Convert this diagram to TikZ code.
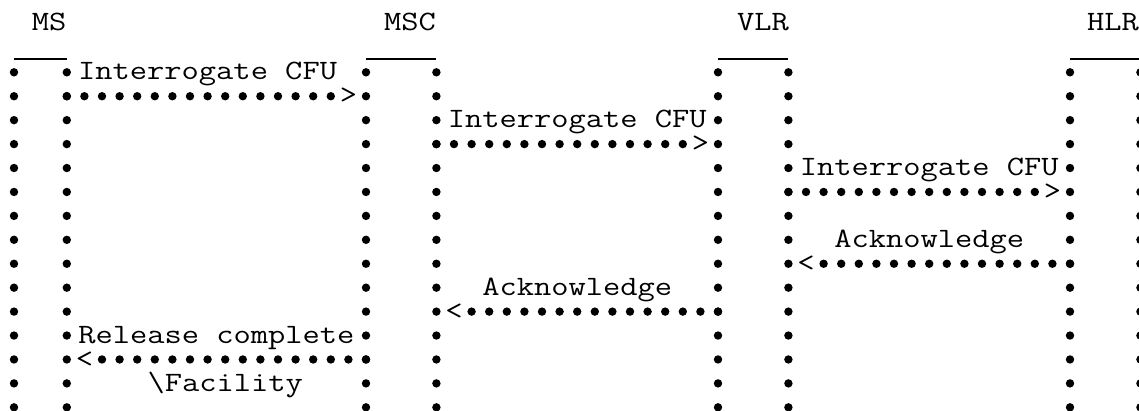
\documentclass[tikz,border=0pt]{standalone}
\usepackage{fontspec}
\usetikzlibrary{decorations.markings}
\newfontfamily\courfont[FakeStretch=1.197]{Latin Modern Mono}
\tikzset{
  lifeline/.style = {decoration={markings,
      mark=between positions 0 and 1 step 23.93pt with {\fill (0,0) circle (4.2pt);}},
      decorate},
  msgline/.style = {decoration={markings,
      mark=between positions 0 and 1 step 17.6pt with {\fill (0,0) circle (4.2pt);}},
      decorate},
  txt/.style = {font=\fontsize{28}{28}\courfont, anchor=base, inner sep=0pt,
                text height=16pt, text depth=3pt},
  boxtop/.style = {line width=1.1pt}
}
\begin{document}
\begin{tikzpicture}[x = 17.6pt, y = -23.93pt]
    \useasboundingbox (-14pt,24.44pt) rectangle (1125pt,-385.56pt);
    % entities (one column of characters = 1, one line = 1)
    \node[txt] (ms) at (2,0.25) {MS};
    \node[txt] (msc) at (22.5,0.25) {MSC};
    \node[txt] (vlr) at (42.56,0.25) {VLR};
    \node[txt] (hlr) at (62.44,0.25) {HLR};
    \foreach \n/\colL/\colR in {ms/0/3, msc/20/24, vlr/40/44, hlr/60/64} {
      \coordinate (\n-tl) at (\colL,1.444);
      \coordinate (\n-tr) at (\colR,1.444);
      \coordinate (\n-l) at (\colL,2);
      \coordinate (\n-r) at (\colR,2);
      \coordinate (\n-bl) at (\colL,16.3);
      \coordinate (\n-br) at (\colR,16.3);
      \draw[boxtop] (\n-tl) -- (\n-tr);
      \path[lifeline] (\n-l) -- (\n-bl);
      \path[lifeline] (\n-r) -- (\n-br);
    }
    % MS -> MSC
    \node[txt] (lbl1) at (11,2.32) {Interrogate CFU};
    \coordinate (m1) at (3,3);
    \node[txt] (h1) at (19,3.32) {>};
    \path[msgline] (m1) -- (m1 -| h1.west);
    % MSC -> VLR
    \node[txt] (lbl2) at (32,4.32) {Interrogate CFU};
    \coordinate (m2) at (24,5);
    \node[txt] (h2) at (39,5.32) {>};
    \path[msgline] (m2) -- (m2 -| h2.west);
    % VLR -> HLR
    \node[txt] (lbl3) at (52,6.32) {Interrogate CFU};
    \coordinate (m3) at (44,7);
    \node[txt] (h3) at (59,7.32) {>};
    \path[msgline] (m3) -- (m3 -| h3.west);
    % HLR -> VLR
    \node[txt] (lbl4) at (52,9.32) {Acknowledge};
    \coordinate (m4) at (60,10);
    \node[txt] (h4) at (45,10.32) {<};
    \path[msgline] (m4) -- (m4 -| h4.east);
    % VLR -> MSC
    \node[txt] (lbl5) at (32,11.32) {Acknowledge};
    \coordinate (m5) at (40,12);
    \node[txt] (h5) at (25,12.32) {<};
    \path[msgline] (m5) -- (m5 -| h5.east);
    % MSC -> MS
    \node[txt] (lbl6) at (11.5,13.32) {Release complete};
    \coordinate (m6) at (20,14);
    \node[txt] (h6) at (4,14.32) {<};
    \path[msgline] (m6) -- (m6 -| h6.east);
    \node[txt] (lbl7) at (12,15.32) {\textbackslash Facility};
  \end{tikzpicture}
\end{document}
